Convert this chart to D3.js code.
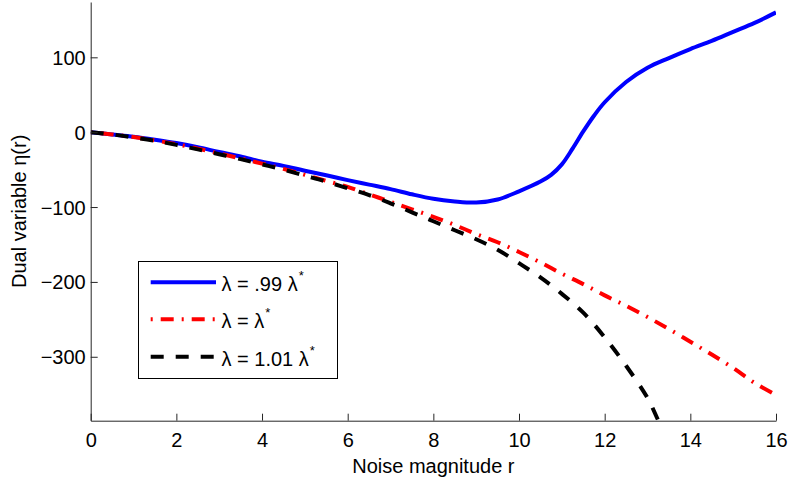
<!DOCTYPE html>
<html>
<head>
<meta charset="utf-8">
<script src="https://cdn.jsdelivr.net/npm/d3@7"></script>
<style>
  body { margin: 0; background: #fff; }
  svg { display: block; font-family: "Liberation Sans", Arial, Helvetica, sans-serif; }
</style>
</head>
<body>
<svg id="chart" width="792" height="479"></svg>
<script>
// ---- Data ----
const blueR = [0,0.5,1,1.5,2,2.5,3,3.5,4,4.5,5,5.5,6,6.5,7,7.5,8,8.5,9,9.5,10,10.5,10.75,11,11.25,11.5,11.75,12,12.5,13,13.5,14,14.5,15,15.5,16];
const blueEta = [0,-3,-6,-10,-14.5,-20,-26.5,-32.5,-39.5,-45,-51.5,-57.5,-64,-70,-76,-83,-89,-92.5,-94,-90,-79,-66,-57,-43,-22,1,22,40,67,86,99,111,122,134,146,160];

const redR = [0,0.5,1,1.5,2,2.5,3,3.5,4,4.5,5,5.5,6,6.5,7,7.5,8,8.5,9,9.5,10,10.5,11,11.5,12,12.5,13,13.5,14,14.5,15,15.5,16];
const redEta = [0,-3,-6.5,-11,-16,-22,-28.5,-35,-42,-49,-57,-65,-73,-83,-93,-103,-113,-124,-136,-147,-160,-174,-189,-203,-218,-232,-247,-263,-280,-297,-315,-335,-351];

const blackR = [0,0.5,1,1.5,2,2.5,3,3.5,4,4.5,5,5.5,6,6.5,7,7.5,8,8.5,9,9.5,10,10.5,11,11.5,12,12.5,13,13.25,13.5];
const blackEta = [0,-3,-7,-11.5,-17,-23,-29.5,-36,-43,-50,-58,-66,-75,-84,-95,-107,-119,-131,-143,-157,-175,-194,-216,-241,-274,-312,-355,-385,-415];

const xTicks = [0,2,4,6,8,10,12,14,16];
const yTicks = [-300,-200,-100,0,100];
const seriesLabels = [".99 λ", "λ", "1.01 λ"];

// ---- Layout ----
const svg = d3.select("#chart");
const pLeft = 90.7, pRight = 776, pTop = 2, pBottom = 420.7;

const x = d3.scaleLinear().domain([0, 16]).range([pLeft, pRight]);
const y = d3.scaleLinear().domain([-385.4, 173.9]).range([pBottom, pTop]);

svg.append("defs").append("clipPath").attr("id", "clip")
  .append("rect").attr("x", pLeft).attr("y", pTop).attr("width", pRight - pLeft).attr("height", pBottom - pTop);

const series = [
  { r: blueR, v: blueEta, color: "#0000ff", dash: null },
  { r: redR, v: redEta, color: "#ff0000", dash: "2,8,13,8" },
  { r: blackR, v: blackEta, color: "#000000", dash: "13,12" }
];

const line = d3.line().x(d => x(d[0])).y(d => y(d[1])).curve(d3.curveCatmullRom.alpha(0.5));

const plot = svg.append("g").attr("clip-path", "url(#clip)");
series.forEach(s => {
  plot.append("path")
    .datum(s.r.map((r, i) => [r, s.v[i]]))
    .attr("fill", "none")
    .attr("stroke", s.color)
    .attr("stroke-width", 4)
    .attr("stroke-dasharray", s.dash)
    .attr("d", line);
});

// ---- Axes ----
const fs = 20;
const xAxis = d3.axisBottom(x).tickValues(xTicks).tickSizeInner(-7).tickSizeOuter(0).tickFormat(d3.format("d"));
const gx = svg.append("g").attr("transform", `translate(0,${pBottom})`).call(xAxis);
gx.select(".domain").attr("stroke", "#262626");
gx.selectAll(".tick line").attr("stroke", "#262626");
gx.selectAll(".tick text").attr("y", 26).attr("dy", null)
  .attr("font-size", fs).attr("fill", "#000").attr("font-family", "Liberation Sans, Arial, sans-serif");

const yAxis = d3.axisLeft(y).tickValues(yTicks).tickSizeInner(-7).tickSizeOuter(0);
const gy = svg.append("g").attr("transform", `translate(${pLeft},0)`).call(yAxis);
gy.select(".domain").attr("stroke", "#262626");
gy.selectAll(".tick line").attr("stroke", "#262626");
gy.selectAll(".tick text").attr("x", -5).attr("dy", "0.35em")
  .attr("font-size", fs).attr("fill", "#000").attr("font-family", "Liberation Sans, Arial, sans-serif");

// Axis titles
svg.append("text")
  .attr("x", (pLeft + pRight) / 2).attr("y", 473)
  .attr("text-anchor", "middle").attr("font-size", fs)
  .text("Noise magnitude r");

svg.append("text")
  .attr("transform", `translate(26,${(pTop + pBottom) / 2}) rotate(-90)`)
  .attr("text-anchor", "middle").attr("font-size", fs)
  .text("Dual variable η(r)");

// ---- Legend ----
const lg = svg.append("g");
lg.append("rect").attr("x", 138.5).attr("y", 261.5).attr("width", 199).attr("height", 117)
  .attr("fill", "#fff").attr("stroke", "#000").attr("stroke-width", 1);
const rowY = [282.3, 319.3, 356.7];
series.forEach((s, i) => {
  lg.append("line").attr("x1", 150.7).attr("x2", 216).attr("y1", rowY[i]).attr("y2", rowY[i])
    .attr("stroke", s.color).attr("stroke-width", 4).attr("stroke-dasharray", s.dash);
  const t = lg.append("text").attr("x", 221.5).attr("y", rowY[i] + 9).attr("font-size", fs);
  t.append("tspan").text("λ = " + seriesLabels[i]);
  t.append("tspan").attr("dy", -11).attr("dx", 1).attr("font-size", 13).text("*");
});
</script>
</body>
</html>
